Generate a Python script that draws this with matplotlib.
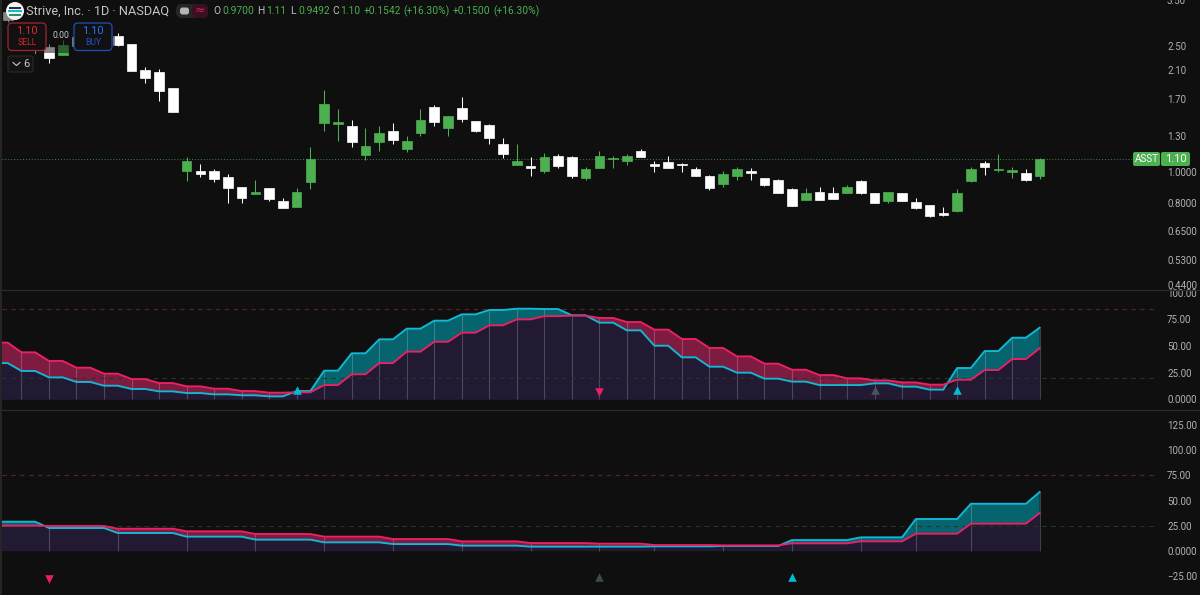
import numpy as np
import matplotlib
matplotlib.use("Agg")
import matplotlib.pyplot as plt
from matplotlib import font_manager as fm
from matplotlib.patches import FancyBboxPatch, Rectangle, Circle
from matplotlib.lines import Line2D
from matplotlib.ticker import NullLocator

# ---------- data ----------
opens = [3.21,2.89,2.81,2.48,2.34,2.67,2.81,2.75,2.69,2.54,2.107,2.069,1.842,1.008,1.008,1.008,.965,.898,.853,.891,.811,.776,
         .931,1.429,1.419,1.398,1.132,1.245,1.348,1.183,1.329,1.604,1.378,1.593,1.450,1.408,1.227,1.053,1.045,1.008,1.124,1.116,
         .958,1.030,1.100,1.084,1.166,1.060,1.076,1.060,1.023,.972,.918,.972,1.008,.958,.944,.885,.817,.866,.860,.860,.938,.860,
         .811,.860,.805,.788,.743,.754,.938,1.068,1.015,1.001,.993,.97]
closes = [3.02,2.61,2.46,2.29,2.52,2.50,2.58,2.54,2.52,2.084,1.981,1.802,1.547,1.084,.986,.951,.891,.829,.866,.823,.771,.866,
          1.100,1.640,1.439,1.245,1.209,1.329,1.263,1.254,1.461,1.439,1.503,1.470,1.348,1.281,1.141,1.084,1.034,1.116,1.045,.972,
          1.023,1.124,1.108,1.124,1.116,1.045,1.030,1.053,.972,.891,.986,1.023,.993,.911,.860,.782,.860,.817,.823,.898,.860,.799,
          .866,.811,.771,.727,.732,.860,1.023,1.038,1.023,1.012,.944,1.10]
highs = [3.26,2.98,2.85,2.54,2.61,2.73,2.89,2.81,2.75,2.54,2.145,2.114,1.842,1.116,1.060,1.023,.986,.898,.944,.891,.829,.891,
         1.200,1.815,1.581,1.461,1.378,1.398,1.429,1.300,1.581,1.628,1.503,1.725,1.450,1.419,1.281,1.227,1.116,1.149,1.141,1.124,
         1.038,1.166,1.124,1.141,1.183,1.084,1.124,1.068,1.038,.979,1.008,1.038,1.030,.958,.951,.891,.891,.898,.898,.911,.944,.860,
         .866,.860,.829,.788,.776,.885,1.038,1.084,1.141,1.038,1.023,1.11]
lows = [2.98,2.54,2.38,2.21,2.34,2.50,2.54,2.50,2.50,2.084,1.910,1.676,1.547,.938,.965,.931,.799,.799,.853,.811,.771,.776,
        .885,1.348,1.254,1.200,1.092,1.166,1.227,1.157,1.300,1.398,1.300,1.439,1.339,1.227,1.108,1.053,.972,.993,1.030,.958,
        .944,1.030,1.030,1.053,1.116,1.001,1.030,1.001,.972,.878,.898,.944,.944,.904,.860,.782,.817,.817,.823,.860,.853,.799,
        .799,.811,.765,.722,.727,.748,.931,.979,1.001,.958,.938,.9492]
price_ticks = [3.5, 2.5, 2.1, 1.7, 1.3, 1.0, 0.8, 0.65, 0.53, 0.44]
price_labels = ["3.50", "2.50", "2.10", "1.70", "1.30", "1.0000", "0.8000", "0.6500", "0.5300", "0.4400"]

mid_pink = [53.2,53.2,44.1,44.1,36,36,29.7,29.7,24.1,24.1,19,19,15.3,15.3,12.2,12.2,10,10,7.8,7.8,6.3,6.3,6.6,6.6,13.4,13.4,
            23.5,23.5,34,34,44.7,44.7,54,54,62.5,62.5,69.4,69.4,75,75,78,78,78.5,78.5,76.3,76.3,72.5,72.5,65.4,65.4,56.6,56.6,
            48.2,48.2,40.3,40.3,33.5,33.5,27.8,27.8,22.8,22.8,19.7,19.7,17.8,17.8,15.9,15.9,13.8,13.8,18.4,18.4,27.5,27.5,37.8,37.8,47.8]
mid_cyan = [34,34,26.6,26.6,20.6,20.6,16.3,16.3,12.8,12.8,9.7,9.7,7.5,7.5,5.9,5.9,4.7,4.7,3.8,3.8,2.8,2.8,7.8,7.8,26.9,26.9,
            43.2,43.2,56.3,56.3,66.3,66.3,73.8,73.8,79.7,79.7,83.8,83.8,85,85,84.7,84.7,78.8,78.8,71.9,71.9,64.7,64.7,50.3,50.3,39.4,39.4,
            30.6,30.6,25,25,19.4,19.4,16.6,16.6,13.4,13.4,13.4,13.4,15,15,11.9,11.9,9.1,9.1,29.4,29.4,45.3,45.3,57.8,57.8,67.2]
mid_bars = list(range(1, 76, 2))
mid_ticks = [100, 75, 50, 25, 0]
mid_labels = ["100.00", "75.00", "50.00", "25.00", "0.0000"]
mid_levels = [85, 20]

bot_pink = [24.9,24.9,24.9,24.9, 24.6,24.6,24.6,24.6,24.6, 21.9,21.9,21.9,21.9,21.9, 19.3,19.3,19.3,19.3,19.3,
            16.6,16.6,16.6,16.6,16.6, 14,14,14,14,14, 11.6,11.6,11.6,11.6,11.6, 9.3,9.3,9.3,9.3,9.3, 7.6,7.6,7.6,7.6,7.6,
            7,7,7,7, 5.6,5.6,5.6,5.6,5.6, 5.3,5.3,5.3,5.3,5.3, 7.3,7.3,7.3,7.3,7.3, 9.3,9.3,9.3,9.3, 16.9,16.9,16.9,16.9,
            26.9,26.9,26.9,26.9,26.9, 37.5]
bot_cyan = [28.9,28.9,28.9,28.9, 22.6,22.6,22.6,22.6,22.6, 17.6,17.6,17.6,17.6,17.6, 14,14,14,14,14,
            11,11,11,11,11, 8.3,8.3,8.3,8.3,8.3, 6.6,6.6,6.6,6.6,6.6, 5,5,5,5,5, 4,4,4,4,4,
            4,4,4,4, 4.3,4.3,4.3,4.3,4.3, 4.7,4.7,4.7,4.7,4.7, 10.6,10.6,10.6,10.6,10.6, 13.3,13.3,13.3,13.3, 31.6,31.6,31.6,31.6,
            46.8,46.8,46.8,46.8,46.8, 58.5]
bot_bars = [3, 8, 13, 18, 23, 28, 33, 38, 43, 47, 52, 57, 62, 66, 70, 75]
bot_ticks = [125, 100, 75, 50, 25, 0, -25]
bot_labels = ["125.00", "100.00", "75.00", "50.00", "25.00", "0.0000", "\u221225.00"]
bot_levels = [75, 25]

mid_signals = [(21, 9, "^", "#00bcd4"), (43, 7, "v", "#e91e63"), (63, 9, "^", "#4b5263"), (69, 9, "^", "#00bcd4")]
bot_signals = [(3, -28.5, "v", "#e91e63"), (43, -26.5, "^", "#3d4b4f"), (57, -26.5, "^", "#00bcd4")]

last_price = 1.10

# ---------- style ----------
BG = "#0f0f0f"
GREEN = "#4caf50"
PINK = "#ef1f66"
CYAN = "#12b9d6"
GRID = "#2a2a2a"
TXT = "#b2b2b2"
names = {f.name for f in fm.fontManager.ttflist}
NARROW = "Liberation Sans Narrow" if "Liberation Sans Narrow" in names else "Roboto"
NUM = 8.6 if NARROW != "Roboto" else 7.0
plt.rcParams["font.family"] = ["Roboto", "DejaVu Sans"]
W, H = 1200, 595
fig = plt.figure(figsize=(W / 100, H / 100), dpi=100, facecolor=BG)

def px_axes(l, t, r, b):
    ax = fig.add_axes([l / W, 1 - b / H, (r - l) / W, (b - t) / H], facecolor=BG)
    for s in ax.spines.values():
        s.set_visible(False)
    ax.tick_params(axis="x", length=0, labelbottom=False)
    ax.tick_params(axis="y", left=False, labelleft=False, right=False, labelright=True,
                   length=0, pad=6.5, labelsize=NUM, labelcolor=TXT)
    ax.set_xlim(-0.414, 83.6)
    return ax

def style_ticks(ax):
    for t in ax.get_yticklabels():
        t.set_fontfamily(NARROW)

# ---------- price panel ----------
ax = px_axes(2, -6, 1158, 289.5)
ax.set_yscale("log")
ax.set_ylim(0.4262, 3.648)
ax.yaxis.set_minor_locator(NullLocator())
ax.set_yticks(price_ticks)
ax.set_yticklabels(price_labels)
style_ticks(ax)
x = np.arange(len(opens))
o, c, hi, lo = map(np.array, (opens, closes, highs, lows))
cols = np.where(c >= o, GREEN, "#ffffff")
ax.vlines(x, lo, hi, colors=cols, linewidth=0.75, zorder=2)
ax.bar(x, np.abs(c - o), bottom=np.minimum(o, c), width=0.7, color=cols,
       edgecolor=cols, linewidth=0.5, zorder=3)
ax.axhline(last_price, color=GREEN, linestyle=(0, (1, 2)), linewidth=0.7, alpha=0.75, zorder=1)

# ---------- oscillator panels ----------
def osc(ax, pink, cyan, bars, ticks, labels, levels, signals, ylim):
    xs = np.arange(-1, 76)
    p, q = np.array(pink, float), np.array(cyan, float)
    ax.set_ylim(*ylim)
    ax.set_yticks(ticks)
    ax.set_yticklabels(labels)
    style_ticks(ax)
    ax.axhline(levels[0], color="#5a2230", linestyle=(0, (4, 4)), linewidth=0.8, zorder=1)
    ax.axhline(levels[1], color="#1f3b24", linestyle=(0, (4, 4)), linewidth=0.8, zorder=4)
    ax.fill_between(xs, 0, np.minimum(p, q), color="#211a32", linewidth=0, zorder=2)
    ax.fill_between(xs, p, q, where=q >= p, interpolate=True, color="#06646f", linewidth=0, zorder=2)
    ax.fill_between(xs, p, q, where=p >= q, interpolate=True, color="#7e1b40", linewidth=0, zorder=2)
    b = np.array(bars)
    ax.vlines(b, 0, np.maximum(p, q)[b + 1], colors="#ffffff", alpha=0.2, linewidth=0.8, zorder=3)
    ax.plot(xs, q, color=CYAN, linewidth=1.35, zorder=5)
    ax.plot(xs, p, color=PINK, linewidth=1.35, zorder=6)
    for sx, sy, m, col in signals:
        ax.scatter([sx], [sy], marker=m, s=38, color=col, linewidths=0, zorder=7)

ax2 = px_axes(2, 289.5, 1158, 409.5)
osc(ax2, mid_pink, mid_cyan, mid_bars, mid_ticks, mid_labels, mid_levels, mid_signals, (-9.5, 103))
ax3 = px_axes(2, 409.5, 1158, 595)
osc(ax3, bot_pink, bot_cyan, bot_bars, bot_ticks, bot_labels, bot_levels, bot_signals, (-44.2, 140.8))

# ---------- chrome overlay (pixel coordinates) ----------
ov = fig.add_axes([0, 0, 1, 1], facecolor="none")
ov.set_xlim(0, W)
ov.set_ylim(H, 0)
ov.axis("off")

for yy in (289.5, 409.5):
    ov.add_line(Line2D([0, W], [yy, yy], color=GRID, linewidth=0.9))
ov.add_line(Line2D([1, 1], [0, H], color=GRID, linewidth=1.2))

ov.add_patch(Rectangle((2, 0), 113, 53, facecolor=BG, alpha=0.5, linewidth=0))

def box(l, t, r, b, fc, ec="none", rad=3, lw=0.9, alpha=1):
    ov.add_patch(FancyBboxPatch((l + rad, t + rad), r - l - 2 * rad, b - t - 2 * rad,
                                boxstyle=f"round,pad={rad},rounding_size={rad}",
                                facecolor=fc, edgecolor=ec, linewidth=lw, alpha=alpha))

ov.add_patch(Circle((15, 11), 9, facecolor="#f2f2f2", edgecolor="none"))
ov.add_line(Line2D([10, 20], [7.5, 7.5], color="#17303a", linewidth=1.4))
ov.add_line(Line2D([9, 21], [11, 11], color="#19b5c9", linewidth=1.4))
ov.add_line(Line2D([10, 20], [14.5, 14.5], color="#1f8f6a", linewidth=1.4))
ov.text(26, 11, "Strive, Inc. \u00b7 1D \u00b7 NASDAQ", color="#c4c4c4", fontsize=9.2, va="center", ha="left")

box(176, 4, 208, 18, "#262626", rad=6)
box(192, 4, 208, 18, "#3a1020", rad=5)
box(180, 7.5, 189, 14.5, "#b5b5b5", rad=2.5)
ov.text(200, 10.5, "\u2248", color="#d81b60", fontsize=9, ha="center", va="center", family="DejaVu Sans")

vals = [(213.5, "O", "#bdbdbd"), (222, "0.9700", GREEN), (257, "H", "#bdbdbd"), (266, "1.11", GREEN),
        (290, "L", "#bdbdbd"), (298, "0.9492", GREEN), (332, "C", "#bdbdbd"), (340, "1.10", GREEN),
        (363.5, "+0.1542", GREEN), (403.5, "(+16.30%)", GREEN), (453, "+0.1500", GREEN), (493, "(+16.30%)", GREEN)]
for tx, s, col in vals:
    ov.text(tx, 11, s, color=col, fontsize=9.0 if NARROW != "Roboto" else 7.4, va="center", ha="left", family=NARROW)

box(8, 23, 46, 50.5, "#111111", ec="#a3242f", rad=4)
ov.text(27, 31, "1.10", color="#e5262f", fontsize=8.0, ha="center", va="center")
ov.text(27, 42.5, "SELL", color="#d9232c", fontsize=6.2, ha="center", va="center")
box(74, 23, 112, 50.5, "#111111", ec="#1f4fb8", rad=4)
ov.text(93, 31, "1.10", color="#2f6bff", fontsize=8.0, ha="center", va="center")
ov.text(93, 42.5, "BUY", color="#2252c4", fontsize=6.2, ha="center", va="center")
ov.text(60.5, 36, "0.00", color="#c8c8c8", fontsize=6.2, ha="center", va="center")
box(8, 56, 33, 72, "#141414", ec="#2a2a2a", rad=2.5, lw=0.8)
ov.add_line(Line2D([13, 16.5, 20], [62.5, 65.5, 62.5], color="#c8c8c8", linewidth=0.8))
ov.text(26.5, 64, "6", color="#c8c8c8", fontsize=8.0, ha="center", va="center")

box(1133, 152, 1160, 166, GREEN, rad=2)
ov.text(1146.5, 159, "ASST", color="#ffffff", fontsize=7.2, ha="center", va="center")
box(1161, 152, 1190, 166, GREEN, rad=2)
ov.text(1175.5, 159, "1.10", color="#ffffff", fontsize=8.0, ha="center", va="center")

fig.savefig("out.png", dpi=100, facecolor=BG)
